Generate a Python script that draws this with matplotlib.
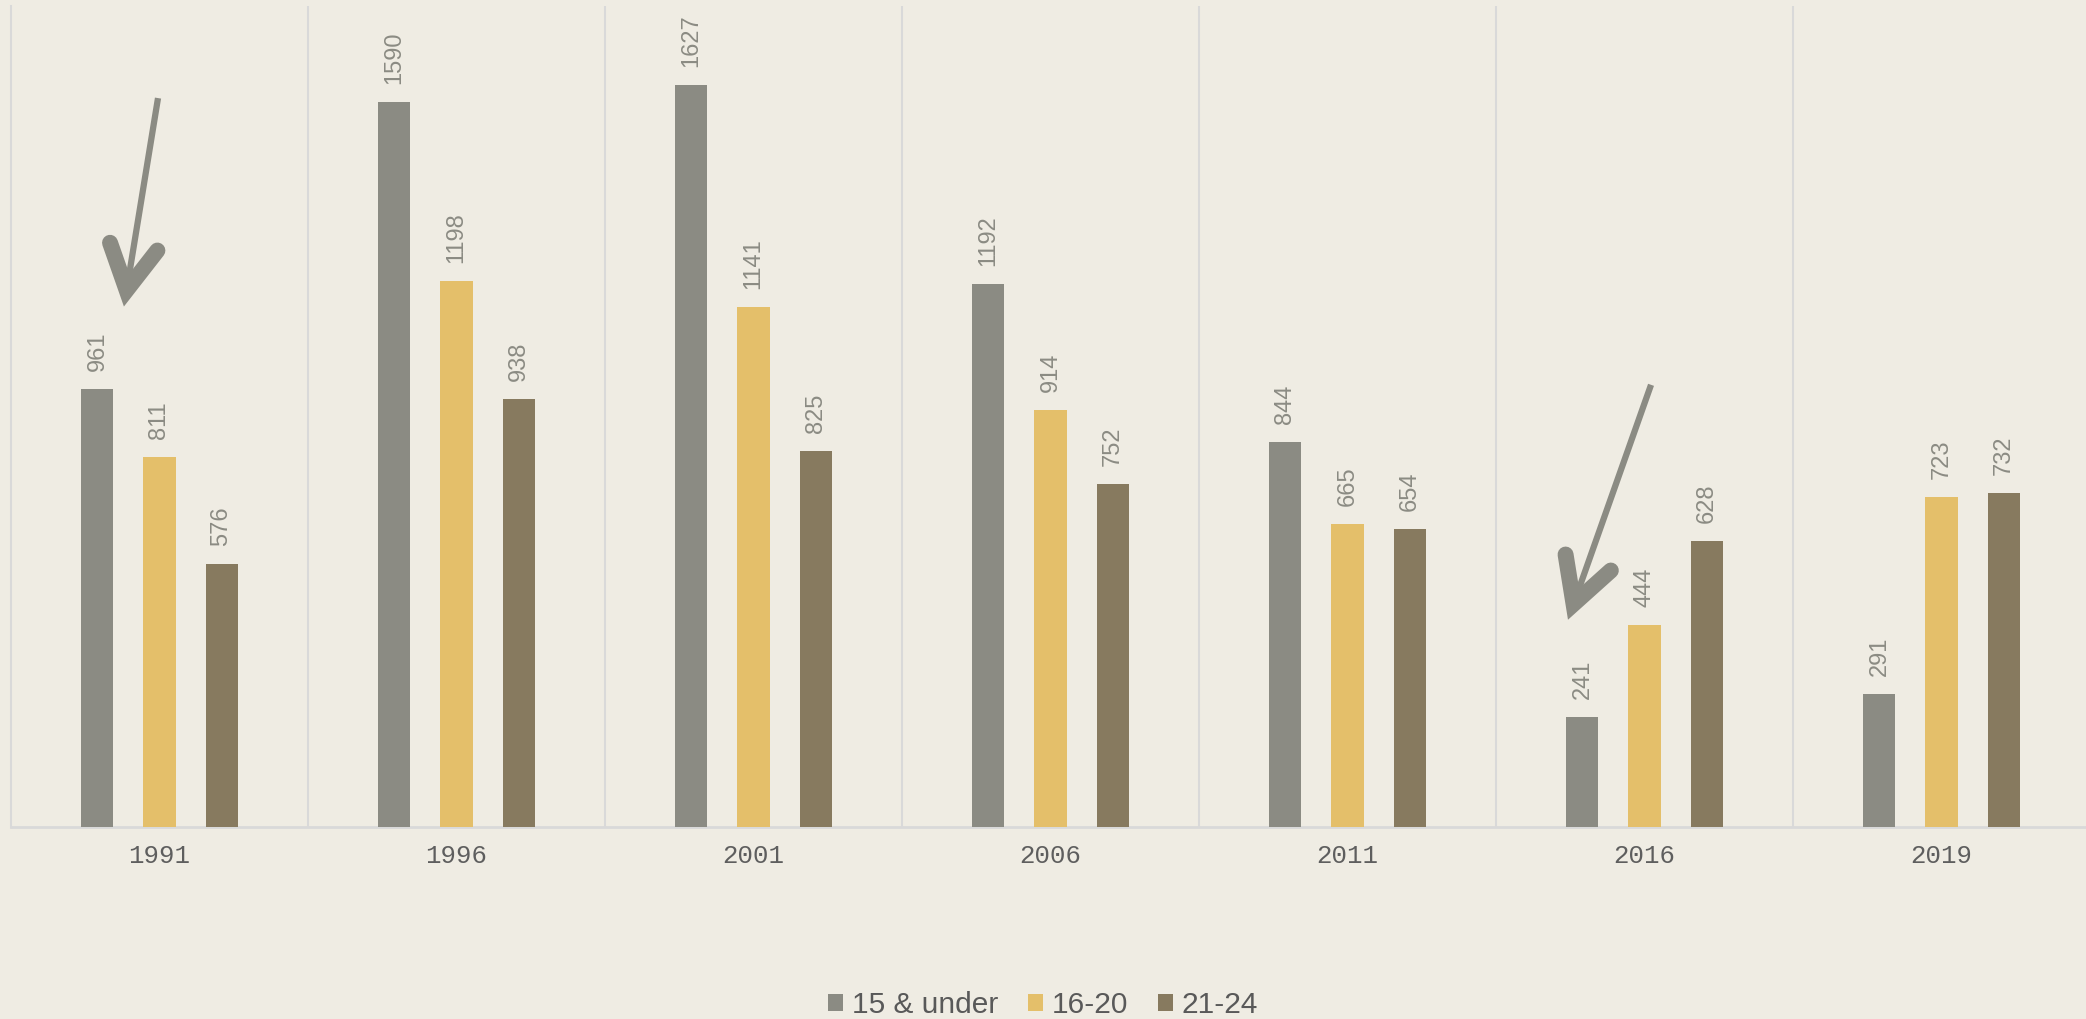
import matplotlib
matplotlib.use("Agg")
import matplotlib.pyplot as plt
import numpy as np

years = ["1991", "1996", "2001", "2006", "2011", "2016", "2019"]
series_names = ["15 & under", "16-20", "21-24"]
under15 = [961, 1590, 1627, 1192, 844, 241, 291]
age16_20 = [811, 1198, 1141, 914, 665, 444, 723]
age21_24 = [576, 938, 825, 752, 654, 628, 732]
colors = ["#8B8B83", "#E4BF6A", "#877A5F"]

# annotation arrows: (tail, tip) in data coordinates
arrows = [((-0.005, 1599), (-0.12, 1141)), ((5.022, 970), (4.742, 454))]

bg = "#EFECE3"
W, H = 2086, 1019
fig = plt.figure(figsize=(W / 100, H / 100), dpi=100, facecolor=bg)
ax = fig.add_axes([11 / W, 1 - 827 / H, 7 * 297 / W, (827 - 6) / H])
ax.set_facecolor(bg)

x = np.arange(len(years))
offsets = [-0.209, 0.0, 0.209]
bw = 0.108
all_series = [under15, age16_20, age21_24]
for s, (vals, name, c) in enumerate(zip(all_series, series_names, colors)):
    ax.bar(x + offsets[s], vals, width=bw, color=c, label=name, zorder=3)
    for xi, v in zip(x + offsets[s], vals):
        ax.annotate(str(v), (xi, v), xytext=(0, 13), textcoords="offset points",
                    rotation=90, ha="center", va="bottom", fontsize=17,
                    color="#8B8B83", family="Liberation Sans")

ax.set_xlim(-0.5, 6.5)
ax.set_ylim(0, 1801)
ax.set_yticks([])
ax.set_xticks(x)
ax.set_xticklabels(years, family="Liberation Mono", fontsize=18.5, color="#5E5E5E")
ax.tick_params(axis="x", length=0, pad=12)
ax.set_xticks(np.arange(0.5, 6.5, 1), minor=True)
ax.tick_params(axis="x", which="minor", length=0)
ax.grid(axis="x", which="minor", color="#D9D9D9", linewidth=1.5, zorder=0)
for side in ["top", "right"]:
    ax.spines[side].set_visible(False)
ax.spines["left"].set_color("#D9D9D9")
ax.spines["left"].set_linewidth(1.5)
ax.spines["bottom"].set_color("#D9D9D9")
ax.spines["bottom"].set_linewidth(2)

arrow_c = "#8B8B83"
inv = ax.transData.inverted()
for tail, tip in arrows:
    t_disp = ax.transData.transform(tail)
    p_disp = ax.transData.transform(tip)
    d = p_disp - t_disp
    d = d / np.hypot(*d)
    perp = np.array([-d[1], d[0]])
    inner = p_disp - 17 * d          # stroke vertex; miter reaches the tip
    wing_a = inner - 44 * d + 24 * perp
    wing_b = inner - 44 * d - 24 * perp
    shaft = inv.transform(np.array([t_disp, inner]))
    head = inv.transform(np.array([wing_a, inner, wing_b]))
    ax.plot(shaft[:, 0], shaft[:, 1], color=arrow_c, lw=4.5,
            solid_capstyle="butt", zorder=4)
    ax.plot(head[:, 0], head[:, 1], color=arrow_c, lw=11.5,
            solid_capstyle="round", solid_joinstyle="miter", zorder=4)

leg = fig.legend(loc="center", bbox_to_anchor=(0.5, 1 - 1005 / H), ncol=3,
                 frameon=False, handlelength=0.5, handleheight=0.5,
                 handletextpad=0.3, columnspacing=1.0,
                 prop={"family": "Liberation Sans", "size": 21.5})
for t in leg.get_texts():
    t.set_color("#595959")

fig.savefig("out.png", dpi=100, facecolor=bg)
